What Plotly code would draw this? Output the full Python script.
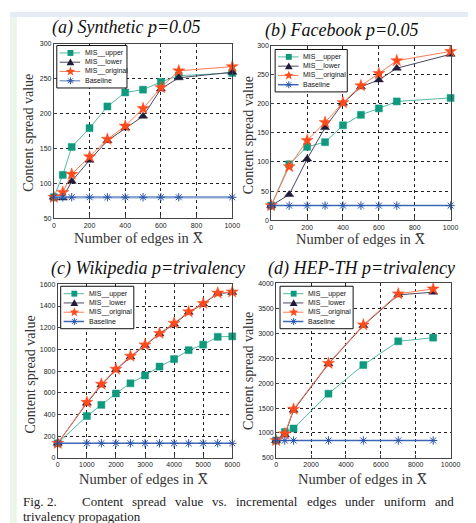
import math
import plotly.graph_objects as go

W, H = 476, 523

# ---------------- data ----------------
# (a) Synthetic p=0.05
a_x = [0, 50, 100, 200, 300, 400, 500, 600, 700, 1000]
a_upper = [80, 112, 152, 179, 210, 230, 234, 245, 254, 258]
a_lower = [80, 79, 103, 133, 161, 179, 196, 235, 251, 259]
a_original = [80, 87, 113, 138, 163, 182, 207, 237, 261, 267]
a_baseline = [80, 80, 80, 80, 80, 80, 80, 80, 80, 80]

# (b) Facebook p=0.05
b_x = [0, 100, 200, 300, 400, 500, 600, 700, 1000]
b_upper = [25, 96, 126, 134, 163, 181, 192, 204, 210]
b_lower = [25, 44, 105, 159, 201, 229, 241, 261, 285]
b_original = [25, 92, 137, 168, 202, 231, 252, 274, 290]
b_baseline = [25, 25, 25, 25, 25, 25, 25, 25, 25]

# (c) Wikipedia p=trivalency
c_x = [0, 1000, 1500, 2000, 2500, 3000, 3500, 4000, 4500, 5000, 5500, 6000]
c_upper = [135, 386, 489, 594, 688, 760, 842, 911, 993, 1044, 1116, 1120]
c_lower = [135, 505, 672, 812, 930, 1036, 1143, 1232, 1342, 1418, 1516, 1525]
c_original = [135, 513, 680, 818, 938, 1042, 1148, 1242, 1347, 1424, 1520, 1530]
c_baseline = [135] * 12

# (d) HEP-TH p=trivalency
d_x = [0, 500, 1000, 3000, 5000, 7000, 9000]
d_upper = [850, 1020, 1090, 1788, 2363, 2838, 2911]
d_lower = [850, 962, 1458, 2382, 3155, 3769, 3822]
d_original = [850, 985, 1478, 2395, 3168, 3789, 3888]
d_baseline = [850] * 7

series_names = ["MIS__upper", "MIS__lower", "MIS__original", "Baseline"]
titles = ["(a) Synthetic p=0.05", "(b) Facebook p=0.05",
          "(c) Wikipedia p=trivalency", "(d) HEP-TH p=trivalency"]

panels = [
    (a_x, [a_upper, a_lower, a_original, a_baseline]),
    (b_x, [b_upper, b_lower, b_original, b_baseline]),
    (c_x, [c_upper, c_lower, c_original, c_baseline]),
    (d_x, [d_upper, d_lower, d_original, d_baseline]),
]

# ---------------- layout helpers ----------------
def px(x):
    return x / W

def py(y):
    return 1 - y / H

def path(points, close=True):
    s = "M " + " L ".join(f"{px(x):.5f},{py(y):.5f}" for x, y in points)
    return s + (" Z" if close else "")

# pixel boxes: (left, right, top, bottom)
boxes = [(45, 228, 32, 209), (268, 452, 34, 211), (49, 228, 276, 452), (273, 452, 275, 452)]
xranges = [[0, 1000], [0, 1000], [0, 6000], [0, 10000]]
xdticks = [200, 200, 1000, 2000]
yranges = [[50, 300], [0, 300], [0, 1600], [500, 4000]]
ydticks = [50, 50, 200, 500]
legend_box = [(48, 34, 72), (272, 38, 74), (52, 278, 75), (277, 278, 75)]
title_pos = [(120, 16), (341, 19), (142, 260), (361, 260)]
ylab_pos = [(19, 123), (244, 125), (21, 367), (244, 364)]
xlab_pos = [(132, 229), (360, 230), (137, 473), (362, 473)]

colors_marker = ["#0f9a7e", "#1f1d3a", "#ff4a1c", "#2a55a8"]
colors_line = ["#55b9a2", "#4a4860", "#ff7a55", "#3d68b8"]
symbols = ["square", "triangle-up", "star", "asterisk-open"]
sizes = [7, 8, 9, 7]

fig = go.Figure()
layout = {}
annotations = []
shapes = [
    dict(type="rect", xref="paper", yref="paper", x0=0, x1=1, y0=py(5), y1=1,
         fillcolor="#e4ebf3", line=dict(width=0), layer="below"),
    dict(type="rect", xref="paper", yref="paper", x0=0, x1=px(7), y0=0, y1=py(5),
         fillcolor="#eaf6ea", line=dict(width=0), layer="below"),
]
serif = "Liberation Serif, Times New Roman, serif"
sans = "Liberation Sans, Arial, sans-serif"


def legend_glyph(j, cx, cy, color):
    if j == 0:
        return [dict(type="rect", xref="paper", yref="paper", x0=px(cx - 3), x1=px(cx + 3),
                     y0=py(cy + 3), y1=py(cy - 3), fillcolor=color, line=dict(width=0))]
    if j == 1:
        return [dict(type="path", xref="paper", yref="paper",
                     path=path([(cx, cy - 3.8), (cx + 4, cy + 3), (cx - 4, cy + 3)]),
                     fillcolor=color, line=dict(width=0))]
    if j == 2:
        pts = []
        for k in range(10):
            ang = -math.pi / 2 + k * math.pi / 5
            rr = 5 if k % 2 == 0 else 2.1
            pts.append((cx + rr * math.cos(ang), cy + rr * math.sin(ang)))
        return [dict(type="path", xref="paper", yref="paper", path=path(pts),
                     fillcolor=color, line=dict(width=0))]
    out = []
    for k in range(4):
        ang = k * math.pi / 4
        dx, dy = 3.5 * math.cos(ang), 3.5 * math.sin(ang)
        out.append(dict(type="line", xref="paper", yref="paper", x0=px(cx - dx), x1=px(cx + dx),
                        y0=py(cy - dy), y1=py(cy + dy), line=dict(color=color, width=1)))
    return out


for i, (xs, ys_list) in enumerate(panels):
    n = "" if i == 0 else str(i + 1)
    for j, ys in enumerate(ys_list):
        line = dict(color=colors_line[j], width=1.5 if j == 3 else 1)
        if i == 0 and j == 3:
            line = dict(color="#8aa6d6", width=2.5)
        fig.add_trace(go.Scatter(
            x=xs, y=ys, mode="lines+markers", name=series_names[j],
            xaxis="x" + n, yaxis="y" + n, showlegend=False,
            marker=dict(symbol=symbols[j], size=sizes[j], color=colors_marker[j],
                        line=dict(color=colors_marker[j], width=1 if j == 3 else 0.5)),
            line=line, cliponaxis=False,
        ))
    l, r, t, b = boxes[i]
    common = dict(showgrid=True, gridcolor="#222", griddash="dot", gridwidth=1,
                  showline=True, mirror=True, linecolor="#444", linewidth=1,
                  zeroline=False, ticks="inside", ticklen=3, tickcolor="#444",
                  tickformat="d",
                  tickfont=dict(family=sans, size=7, color="#222"))
    layout["xaxis" + n] = dict(domain=[px(l), px(r)], range=xranges[i], dtick=xdticks[i],
                               tick0=0, anchor="y" + n, **common)
    layout["yaxis" + n] = dict(domain=[py(b), py(t)], range=yranges[i], dtick=ydticks[i],
                               anchor="x" + n, **common)

    # key box in the upper-left corner
    L, T, Wd = legend_box[i]
    shapes.append(dict(type="rect", xref="paper", yref="paper", x0=px(L), x1=px(L + Wd),
                       y0=py(T + 43), y1=py(T), fillcolor="white", line=dict(color="#111", width=1)))
    for j in range(4):
        yc = T + 7.5 + 9.4 * j
        lc = "#8aa6d6" if (i == 0 and j == 3) else colors_line[j]
        shapes.append(dict(type="line", xref="paper", yref="paper", x0=px(L + 3), x1=px(L + 24),
                           y0=py(yc), y1=py(yc), line=dict(color=lc, width=1.5 if j == 3 else 1)))
        shapes.extend(legend_glyph(j, L + 14, yc, colors_marker[j]))
        annotations.append(dict(text=series_names[j], x=px(L + 28), y=py(yc), xref="paper", yref="paper",
                                showarrow=False, xanchor="left", yanchor="middle", borderpad=0,
                                font=dict(family=sans, size=7, color="#111")))

    tx, ty = title_pos[i]
    annotations.append(dict(text="<i>" + titles[i] + "</i>", x=px(tx), y=py(ty), xref="paper", yref="paper",
                            showarrow=False, xanchor="center", yanchor="middle",
                            font=dict(family=serif, size=18, color="#111")))
    yx, yy = ylab_pos[i]
    annotations.append(dict(text="Content spread value", x=px(yx), y=py(yy), xref="paper", yref="paper",
                            showarrow=False, textangle=-90, xanchor="center", yanchor="middle",
                            font=dict(family=serif, size=14, color="#333")))
    xx, xy = xlab_pos[i]
    annotations.append(dict(text="Number of edges in X\u0305", x=px(xx), y=py(xy), xref="paper", yref="paper",
                            showarrow=False, xanchor="center", yanchor="middle",
                            font=dict(family=serif, size=14.5, color="#333")))

# caption (justified first line)
cap_words = [("Fig.", 12), ("2.", 37), ("Content", 73), ("spread", 124.5), ("value", 168.5), ("vs.", 206.5),
             ("incremental", 230.7), ("edges", 303.2), ("under", 342.7), ("uniform", 382.2), ("and", 434.5)]
for w, x in cap_words:
    annotations.append(dict(text=w, x=px(x), y=py(496), xref="paper", yref="paper", showarrow=False,
                            xanchor="left", yanchor="middle", borderpad=0,
                            font=dict(family=serif, size=13, color="#222")))
annotations.append(dict(text="trivalency propagation", x=px(12), y=py(511), xref="paper", yref="paper",
                        showarrow=False, xanchor="left", yanchor="middle", borderpad=0,
                        font=dict(family=serif, size=13, color="#222")))

fig.update_layout(width=W, height=H, margin=dict(l=0, r=0, t=0, b=0),
                  paper_bgcolor="white", plot_bgcolor="white",
                  annotations=annotations, shapes=shapes, **layout)
fig.write_html("out.html")
